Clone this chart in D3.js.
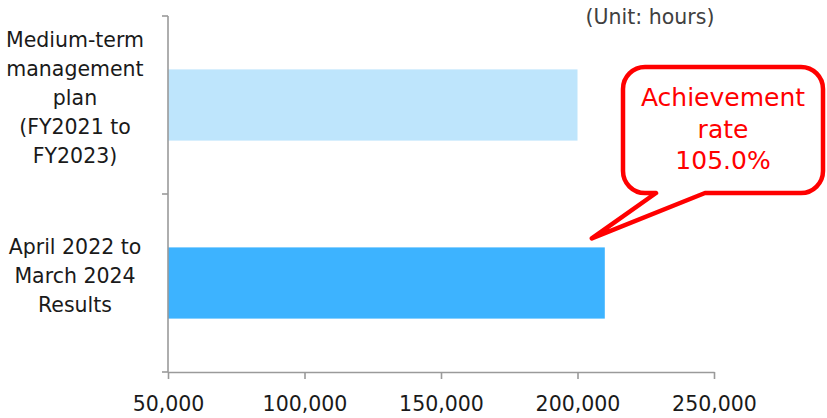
<!DOCTYPE html>
<html>
<head>
<meta charset="utf-8">
<script src="https://cdn.jsdelivr.net/npm/d3@7"></script>
<style>
  html, body { margin: 0; padding: 0; background: #fff; }
  svg { display: block; }
  text { font-family: "DejaVu Sans", Verdana, sans-serif; }
</style>
</head>
<body>
<div id="chart"></div>
<script>
// Training hours: plan vs. results
const categories = [
  ["Medium-term", "management", "plan", "(FY2021 to", "FY2023)"],
  ["April 2022 to", "March 2024", "Results"]
];
const values = [200000, 210000];
const barColors = ["#BEE5FC", "#3DB3FF"];
const xTicks = [50000, 100000, 150000, 200000, 250000];
const unitLabel = "(Unit: hours)";
const calloutLines = ["Achievement", "rate"];

const width = 827, height = 418;
const margin = { top: 16, right: 113, bottom: 46, left: 168 };

const svg = d3.select("#chart").append("svg")
  .attr("width", width).attr("height", height);

const x = d3.scaleLinear()
  .domain([50000, 250000])
  .range([margin.left, width - margin.right]);

const keys = categories.map((c, i) => i);
const y = d3.scaleBand()
  .domain(keys)
  .range([margin.top, height - margin.bottom])
  .paddingInner(0.6)
  .paddingOuter(0.3);

// Category boundaries for the left-axis ticks
const yEdge = d3.scaleLinear()
  .domain([0, keys.length])
  .range([margin.top, height - margin.bottom]);

const axisColor = "#9a9a9a";

// Bars
svg.append("g").selectAll("rect")
  .data(values)
  .join("rect")
  .attr("x", x(50000))
  .attr("y", (d, i) => y(i))
  .attr("width", d => x(d) - x(50000))
  .attr("height", y.bandwidth())
  .attr("fill", (d, i) => barColors[i]);

// Left axis: vertical line with ticks at category boundaries
const gy = svg.append("g");
gy.append("line")
  .attr("x1", x(50000)).attr("x2", x(50000))
  .attr("y1", yEdge(0)).attr("y2", yEdge(keys.length))
  .attr("stroke", axisColor).attr("stroke-width", 1.6);
gy.selectAll("line.tick")
  .data(d3.range(keys.length + 1))
  .join("line")
  .attr("class", "tick")
  .attr("x1", x(50000) - 6).attr("x2", x(50000))
  .attr("y1", d => yEdge(d)).attr("y2", d => yEdge(d))
  .attr("stroke", axisColor).attr("stroke-width", 1.6);

// Bottom axis
const xAxis = d3.axisBottom(x)
  .tickValues(xTicks)
  .tickSize(7)
  .tickSizeOuter(0)
  .tickPadding(17)
  .tickFormat(d3.format(","));
const gx = svg.append("g")
  .attr("transform", `translate(0,${height - margin.bottom})`)
  .call(xAxis);
gx.select(".domain").attr("stroke", axisColor).attr("stroke-width", 1.6);
gx.selectAll(".tick line").attr("stroke", axisColor).attr("stroke-width", 1.6);
gx.selectAll(".tick text")
  .attr("fill", "#1a1a1a")
  .style("font-family", "'DejaVu Sans', Verdana, sans-serif")
  .style("font-size", "20.5px");

// Category labels
const lineH = 29;
categories.forEach((lines, i) => {
  const cy = y(i) + y.bandwidth() / 2;
  const first = cy - (lines.length - 1) * lineH / 2;
  const t = svg.append("text")
    .attr("text-anchor", "middle")
    .attr("fill", "#1a1a1a")
    .style("font-size", "20.5px");
  lines.forEach((s, j) => {
    t.append("tspan").attr("x", 75).attr("y", first + j * lineH).text(s);
  });
});

// Unit label
svg.append("text")
  .attr("x", 650).attr("y", 24)
  .attr("text-anchor", "middle")
  .attr("fill", "#404040")
  .style("font-size", "20.5px")
  .text(unitLabel);

// Achievement-rate callout
const rate = values[1] / values[0] * 100;
const tipX = x(values[1]) - 13, tipY = y(1) - 9;
const bx0 = 623, bx1 = 823, by0 = 67, by1 = 193, r = 22;
const t1 = 656, t2 = 705;
const path = d3.path();
path.moveTo(bx0 + r, by0);
path.lineTo(bx1 - r, by0);
path.arcTo(bx1, by0, bx1, by0 + r, r);
path.lineTo(bx1, by1 - r);
path.arcTo(bx1, by1, bx1 - r, by1, r);
path.lineTo(t2, by1);
path.lineTo(tipX, tipY);
path.lineTo(t1, by1);
path.lineTo(bx0 + r, by1);
path.arcTo(bx0, by1, bx0, by1 - r, r);
path.lineTo(bx0, by0 + r);
path.arcTo(bx0, by0, bx0 + r, by0, r);
path.closePath();
svg.append("path")
  .attr("d", path.toString())
  .attr("fill", "#fff")
  .attr("stroke", "#FF0000")
  .attr("stroke-width", 4.5)
  .attr("stroke-linejoin", "round");

const ct = svg.append("text")
  .attr("text-anchor", "middle")
  .attr("fill", "#FF0000")
  .style("font-size", "25px");
[...calloutLines, d3.format(".1f")(rate) + "%"].forEach((s, j) => {
  ct.append("tspan").attr("x", (bx0 + bx1) / 2).attr("y", 106 + j * 31.5).text(s);
});
</script>
</body>
</html>
